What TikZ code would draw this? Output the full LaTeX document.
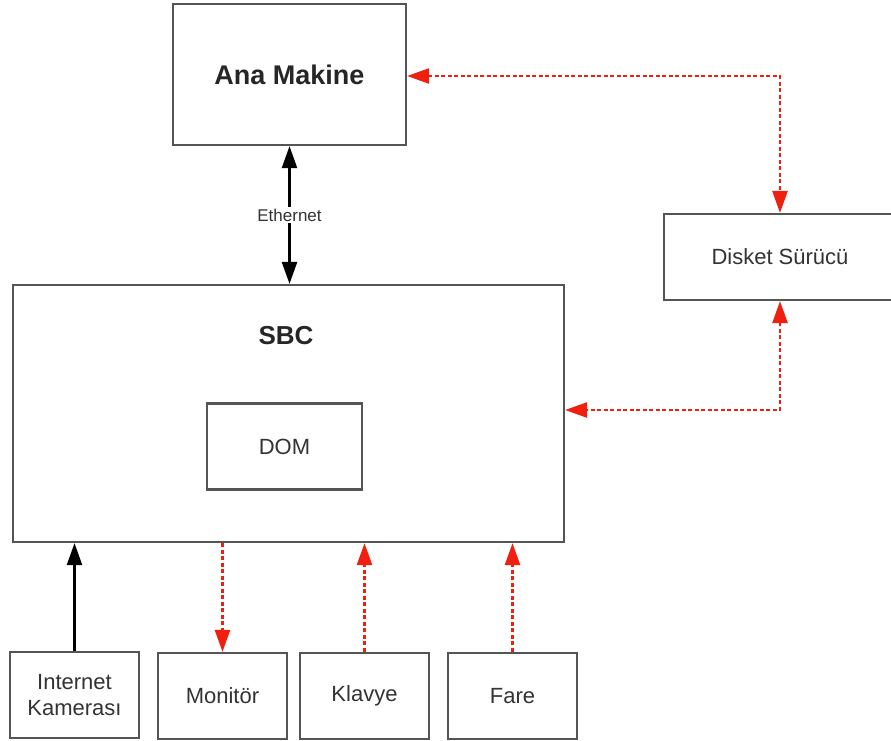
\documentclass[tikz,border=0pt]{standalone}
\usepackage{fontspec}
\setmainfont{Liberation Sans}
\usetikzlibrary{arrows.meta}
\definecolor{boxline}{HTML}{555555}
\definecolor{txt}{HTML}{333333}
\definecolor{redline}{HTML}{F02010}
\begin{document}
\begin{tikzpicture}[x=1pt,y=-1pt,
  box/.style={draw=boxline,line width=2.2pt,fill=white,inner sep=0pt,
    text=txt,font=\fontsize{22}{26}\selectfont,align=center},
  bigtitle/.style={text=black!85,font=\fontsize{27}{32}\selectfont\bfseries},
  solidlink/.style={line width=2.4pt,black,
    -{Triangle[length=22pt,width=15pt]}},
  solidboth/.style={solidlink,{Triangle[length=22pt,width=15pt]}-{Triangle[length=22pt,width=15pt]}},
  redlink/.style={line width=2.6pt,redline,dash pattern=on 4pt off 2.5pt,
    -{Triangle[length=22pt,width=15pt]}},
  redboth/.style={redlink,{Triangle[length=22pt,width=15pt]}-{Triangle[length=22pt,width=15pt]}}]
  \useasboundingbox (0,0) rectangle (891,740);

  % main boxes
  \node[box,minimum width=233pt,minimum height=141pt] (ana) at (289.5,74.5) {};
  \node[bigtitle] (anat) at (289.5,74.5) {Ana Makine};
  \node[box,minimum width=551pt,minimum height=257pt] (sbc) at (288.5,413.5) {};
  \node[bigtitle,font=\fontsize{26}{30}\selectfont\bfseries] (sbct) at (286,336) {SBC};
  \node[box,minimum width=155pt,minimum height=86pt] (dom) at (284.5,446.5) {DOM};
  \node[box,minimum width=232pt,minimum height=86pt] (disk) at (780,257) {Disket Sürücü};

  % peripherals
  \node[box,minimum width=129pt,minimum height=86pt] (cam) at (74.5,695) {Internet\\Kamerası};
  \node[box,minimum width=129pt,minimum height=86pt] (mon) at (222.5,696) {Monitör};
  \node[box,minimum width=129pt,minimum height=86pt] (kb) at (364.5,696) {Klavye};
  \node[box,minimum width=129pt,minimum height=86pt] (mouse) at (512.5,696) {Fare};

  % network link
  \draw[solidboth] (ana.south) -- node[fill=white,inner sep=2pt,text=txt,
    font=\fontsize{17}{20}\selectfont] (eth) {Ethernet} (ana.south |- sbc.north);

  % floppy links
  \draw[redboth] ([yshift=-1.5pt]ana.east) -| (disk.north);
  \draw[redboth] (disk.south) |- ([yshift=3.5pt]sbc.east);

  % peripheral links
  \draw[solidlink] (cam.north) -- (cam.north |- sbc.south);
  \draw[redlink] (mon.north |- sbc.south) -- (mon.north);
  \draw[redlink] (kb.north) -- (kb.north |- sbc.south);
  \draw[redlink] (mouse.north) -- (mouse.north |- sbc.south);
\end{tikzpicture}
\end{document}
